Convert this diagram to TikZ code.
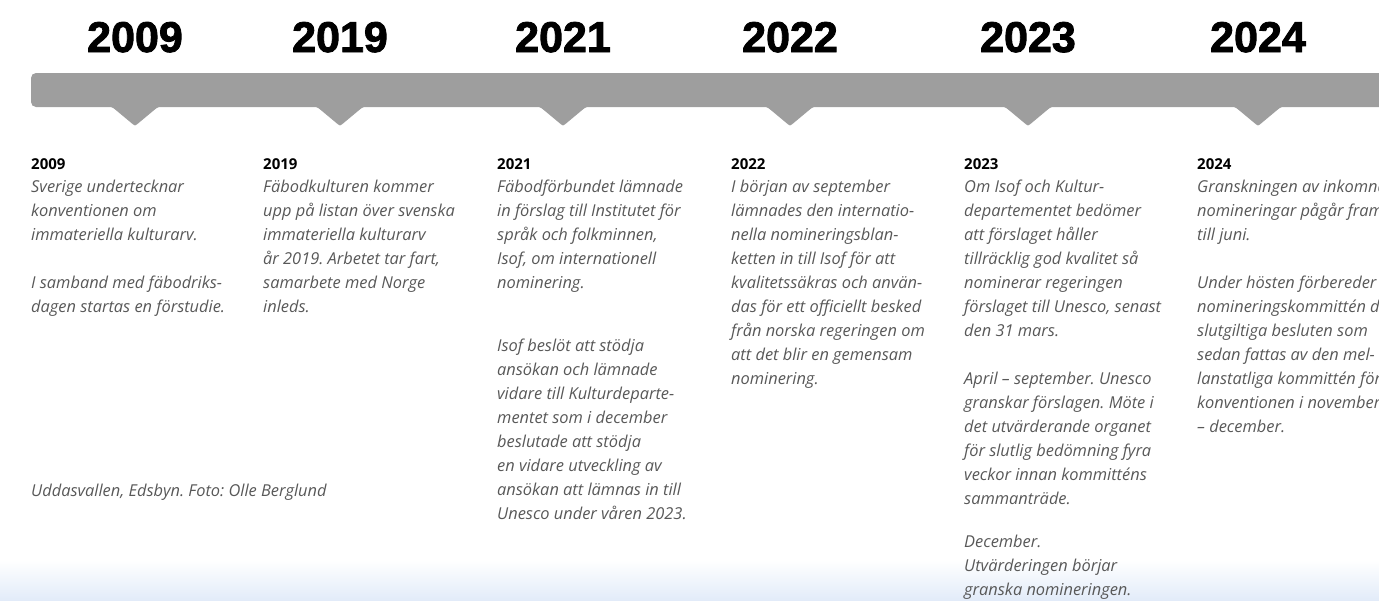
\documentclass[tikz,border=0pt]{standalone}
\usepackage{fontspec}
\setmainfont{Open Sans}
\newfontfamily\headfont[BoldFeatures={FakeBold=2}]{Liberation Sans}
\usepackage{tikz}
\usetikzlibrary{positioning}
\usepackage{xcolor}
\definecolor{bargray}{RGB}{158,158,158}
\definecolor{txtgray}{RGB}{88,88,88}
\definecolor{skyblue}{RGB}{226,235,249}
\newcommand{\topln}{\rule{0pt}{14pt}}
\frenchspacing

\begin{document}
\begin{tikzpicture}[x=1pt,y=-1pt,
    yearhead/.style={font=\headfont\bfseries\fontsize{43}{43}\selectfont,anchor=base,inner sep=0pt},
    yearlab/.style={font=\bfseries\fontsize{15}{18}\selectfont,anchor=base west,inner sep=0pt},
    bodytxt/.style={font=\itshape\fontsize{16.4}{24}\selectfont,anchor=north west,inner sep=0pt,align=left,text=txtgray}]
  \useasboundingbox (0,0) rectangle (1379,600);
  \clip (0,0) rectangle (1379,600);
  \def\Lb{169}     \def\Tb{178}
  % sky at the bottom
  \shade[top color=white,bottom color=skyblue] (0,560) rectangle (1379,600);
  % bar
  \fill[bargray,rounded corners=5pt] (31,73) rectangle (1400,107);
  % years and notches
  \foreach \yr/\x in {2009/135,2019/340,2021/563,2022/790,2023/1028,2024/1258}{
    \node[yearhead] (h\yr) at (\x,52) {\yr};
    \fill[bargray] (\x-34,106) .. controls (\x-24,106) .. (\x-18,111) -- (\x-3,123.5)
      .. controls (\x,126) .. (\x+3,123.5) -- (\x+18,111) .. controls (\x+24,106) .. (\x+34,106) -- cycle;
  }
  % 2009
  \node[yearlab] (y2009) at (31,\Lb) {2009};
  \node[bodytxt] (t2009) at (31,\Tb) {\topln Sverige undertecknar\\konventionen om\\immateriella kulturarv.\\[24pt]
    I samband med fäbodriks-\\dagen startas en förstudie.};
  % 2019
  \node[yearlab] (y2019) at (263,\Lb) {2019};
  \node[bodytxt] (t2019) at (263,\Tb) {\topln Fäbodkulturen kommer\\upp på listan över svenska\\immateriella kulturarv\\
    år 2019. Arbetet tar fart,\\samarbete med Norge\\inleds.};
  % 2021
  \node[yearlab] (y2021) at (497,\Lb) {2021};
  \node[bodytxt] (t2021) at (497,\Tb) {\topln Fäbodförbundet lämnade\\in förslag till Institutet för\\språk och folkminnen,\\
    Isof, om internationell\\nominering.\\[39pt]
    Isof beslöt att stödja\\ansökan och lämnade\\vidare till Kulturdeparte-\\mentet som i december\\
    beslutade att stödja\\en vidare utveckling av\\ansökan att lämnas in till\\Unesco under våren 2023.};
  % 2022
  \node[yearlab] (y2022) at (731,\Lb) {2022};
  \node[bodytxt] (t2022) at (731,\Tb) {\topln I början av september\\lämnades den internatio-\\nella nomineringsblan-\\
    ketten in till Isof för att\\kvalitetssäkras och använ-\\das för ett officiellt besked\\
    från norska regeringen om\\att det blir en gemensam\\nominering.};
  % 2023
  \node[yearlab] (y2023) at (964,\Lb) {2023};
  \node[bodytxt] (t2023) at (964,\Tb) {\topln Om Isof och Kultur-\\departementet bedömer\\att förslaget håller\\
    tillräcklig god kvalitet så\\nominerar regeringen\\förslaget till Unesco, senast\\den 31 mars.\\[24pt]
    April – september. Unesco\\granskar förslagen. Möte i\\det utvärderande organet\\
    för slutlig bedömning fyra\\veckor innan kommitténs\\sammanträde.\\[19pt]
    December.\\Utvärderingen börjar\\granska nomineringen.};
  % 2024
  \node[yearlab] (y2024) at (1197,\Lb) {2024};
  \node[bodytxt] (t2024) at (1197,\Tb) {\topln Granskningen av inkomna\\nomineringar pågår fram\\till juni.\\[24pt]
    Under hösten förbereder\\nomineringskommittén de\\slutgiltiga besluten som\\
    sedan fattas av den mel-\\lanstatliga kommittén för\\konventionen i november\\– december.};
  % caption
  \node[bodytxt] (foto) at (31,482) {\topln Uddasvallen, Edsbyn. Foto: Olle Berglund};
\end{tikzpicture}
\end{document}
